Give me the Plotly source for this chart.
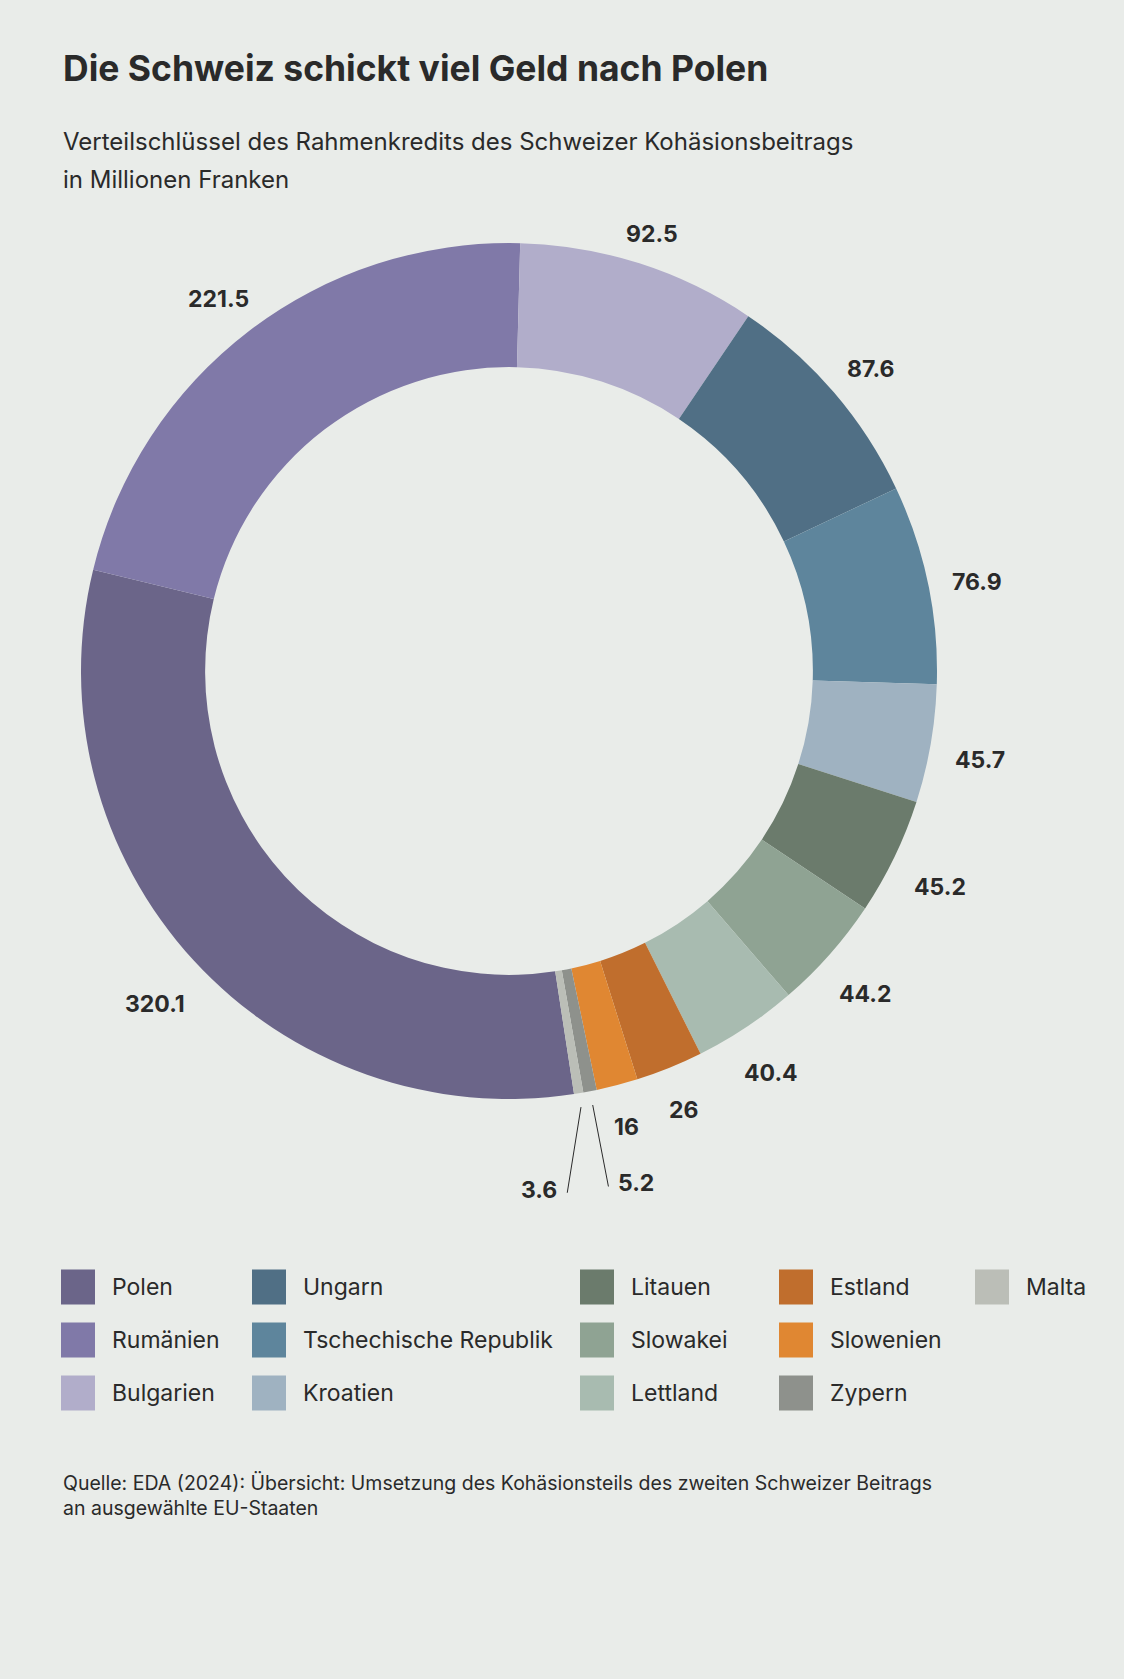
import math
import plotly.graph_objects as go

# data (Mio. CHF)
countries = ["Polen", "Rumänien", "Bulgarien", "Ungarn", "Tschechische Republik", "Kroatien",
             "Litauen", "Slowakei", "Lettland", "Estland", "Slowenien", "Zypern", "Malta"]
amounts = [320.1, 221.5, 92.5, 87.6, 76.9, 45.7, 45.2, 44.2, 40.4, 26, 16, 5.2, 3.6]
amount_labels = ["320.1", "221.5", "92.5", "87.6", "76.9", "45.7", "45.2", "44.2",
                 "40.4", "26", "16", "5.2", "3.6"]
colors = ["#6b6589", "#8079a8", "#b1adca", "#506f85", "#5e859c", "#9fb2c1",
          "#6b7b6c", "#8fa393", "#a8bbb0", "#c06e2d", "#e08732", "#8e918c", "#bbbeb7"]

title = "Die Schweiz schickt viel Geld nach Polen"
subtitle = ["Verteilschlüssel des Rahmenkredits des Schweizer Kohäsionsbeitrags",
            "in Millionen Franken"]
source = ["Quelle: EDA (2024): Übersicht: Umsetzung des Kohäsionsteils des zweiten Schweizer Beitrags",
          "an ausgewählte EU-Staaten"]

W, H = 1124, 1679
BG = "#e9ece9"
INK = "#2a2a2a"
FONT = "Inter"
cx, cy, R = 509, 671, 428     # donut centre / outer radius in px
HOLE = 0.71

total = sum(amounts)
# Bulgarien starts at 12 o'clock, so Polen starts (Polen + Rumänien) before it
rotation = 360 - (amounts[0] + amounts[1]) / total * 360 + 1.5

fig = go.Figure(go.Pie(
    labels=countries, values=amounts, marker=dict(colors=colors, line=dict(width=0)),
    hole=HOLE, sort=False, direction="clockwise", rotation=rotation,
    textinfo="none", hoverinfo="label+value", showlegend=False,
    domain=dict(x=[(cx - R) / W, (cx + R) / W], y=[1 - (cy + R) / H, 1 - (cy - R) / H]),
))


def px(x, y):
    return x / W, 1 - y / H


def polar(angle, r):
    a = math.radians(angle)
    return cx + r * math.sin(a), cy - r * math.cos(a)


annotations = []
shapes = []

# value labels around the ring
mids = []
cum = 0
for v in amounts:
    mids.append(rotation + (cum + v / 2) / total * 360)
    cum += v

lab_font = dict(family=FONT, size=23, color=INK, weight="bold")
small = [i for i, v in enumerate(amounts) if v < 10]
for i, lab in enumerate(amount_labels):
    if i in small:
        continue
    a = math.radians(mids[i])
    w = len(lab) * 12.5
    r = R + 24 + abs(math.sin(a)) * w / 2 + abs(math.cos(a)) * 8.5
    lx, ly = polar(mids[i], r)
    x, y = px(lx, ly + 8)
    annotations.append(dict(x=x, y=y, xref="paper", yref="paper", text=lab, showarrow=False,
                            font=lab_font, xanchor="center", yanchor="middle"))

# tiny slices get leader lines fanned apart
for k, i in enumerate(small):
    end_angle = mids[i] + k * 3
    x0, y0 = polar(mids[i], R + 14)
    x1, y1 = polar(end_angle, R + 97)
    (p0x, p0y), (p1x, p1y) = px(x0, y0), px(x1, y1)
    shapes.append(dict(type="line", xref="paper", yref="paper", x0=p0x, y0=p0y, x1=p1x, y1=p1y,
                       line=dict(color=INK, width=1)))
    left = k == 0
    tx, ty = px(x1 + (8 if left else -8), y1 - 3)
    annotations.append(dict(x=tx, y=ty, xref="paper", yref="paper", text=amount_labels[i],
                            showarrow=False, font=lab_font,
                            xanchor="left" if left else "right", yanchor="middle"))

# title block
annotations.append(dict(x=61 / W, y=1 - 68 / H, xref="paper", yref="paper", text=title,
                        showarrow=False, xanchor="left", yanchor="middle",
                        font=dict(family=FONT, size=35.5, color=INK, weight="bold")))
for j, line in enumerate(subtitle):
    annotations.append(dict(x=61 / W, y=1 - (141 + 39 * j) / H, xref="paper", yref="paper",
                            text=line, showarrow=False, xanchor="left", yanchor="middle",
                            font=dict(family=FONT, size=24, color=INK)))

# legend: 3 rows, column-major
col_x = [61, 252, 580, 779, 975]
row_y = [1287, 1340, 1393]
for i, name in enumerate(countries):
    c, r = divmod(i, 3)
    x0, yc = col_x[c], row_y[r]
    shapes.append(dict(type="rect", xref="paper", yref="paper",
                       x0=x0 / W, x1=(x0 + 34) / W, y0=1 - (yc + 17.5) / H, y1=1 - (yc - 17.5) / H,
                       fillcolor=colors[i], line=dict(width=0)))
    annotations.append(dict(x=(x0 + 49) / W, y=1 - yc / H, xref="paper", yref="paper", text=name,
                            showarrow=False, xanchor="left", yanchor="middle",
                            font=dict(family=FONT, size=23, color=INK)))

for j, line in enumerate(source):
    annotations.append(dict(x=61 / W, y=1 - (1483 + 25 * j) / H, xref="paper", yref="paper",
                            text=line, showarrow=False, xanchor="left", yanchor="middle",
                            font=dict(family=FONT, size=19.5, color=INK)))

fig.update_layout(
    width=W, height=H, margin=dict(l=0, r=0, t=0, b=0),
    paper_bgcolor=BG, plot_bgcolor=BG,
    annotations=annotations, shapes=shapes,
)

fig.write_html("out.html", config={"displayModeBar": False},
               post_script="document.body.style.margin='0';"
                           "document.body.style.background='" + BG + "';")
